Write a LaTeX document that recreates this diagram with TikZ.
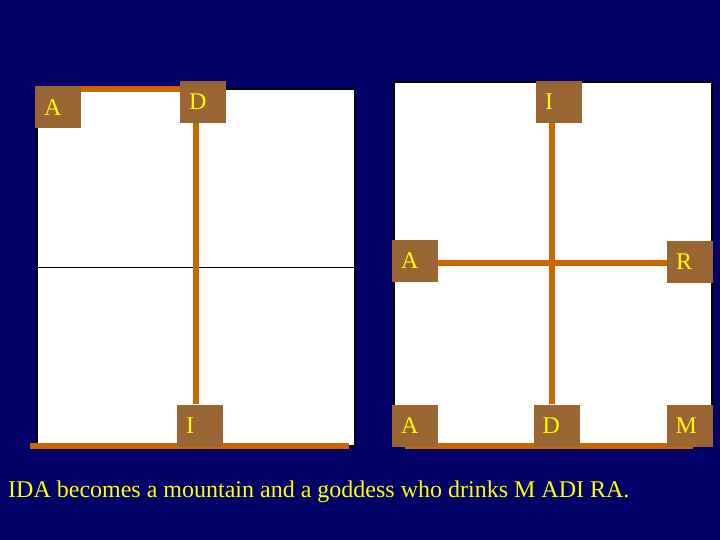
\documentclass[tikz,border=0pt]{standalone}
\usepackage{fontspec}
\setmainfont{Liberation Serif}
\definecolor{navy}{RGB}{0,0,102}
\definecolor{boxbrown}{RGB}{153,102,51}
\definecolor{linkorange}{RGB}{204,102,0}
\definecolor{lettery}{RGB}{255,255,0}
\pgfdeclarelayer{bg}
\pgfdeclarelayer{lines}
\pgfsetlayers{bg,lines,main}
\tikzset{
  letterbox/.style={fill=boxbrown, text=lettery, font=\fontsize{24}{28}\selectfont,
    minimum height=42pt, text width=28pt, inner xsep=9pt, inner ysep=0pt, align=left},
  conn/.style={draw=linkorange, line width=6pt},
  panel/.style={fill=white, draw=black, line width=1.5pt},
}
\begin{document}
\begin{tikzpicture}[x=1pt,y=-1pt]
\useasboundingbox (0,0) rectangle (720,540);
% letter boxes
\node[letterbox] (lA) at (58,107.5) {A};
\node[letterbox] (lD) at (203,102) {D};
\node[letterbox] (lI) at (200,425.5) {I};
\node[letterbox] (rI) at (559,102) {I};
\node[letterbox] (rA) at (415,261) {A};
\node[letterbox] (rR) at (690,261.5) {R};
\node[letterbox] (bA) at (415,426) {A};
\node[letterbox] (bD) at (556.5,425.5) {D};
\node[letterbox] (bM) at (689.5,425.5) {M};
\node[anchor=base west, text=lettery, font=\fontsize{24}{28}\selectfont, inner sep=0pt] (cap) at (8,497)
  {IDA becomes a mountain and a goddess who drinks M ADI RA.};
% coordinates
\coordinate (tl) at (37,89);
\coordinate (lvx) at (196,0);
\coordinate (bl1) at (30,446);
\coordinate (bl2) at (349,446);
\coordinate (rvx) at (552,0);
\coordinate (hy) at (0,263);
\coordinate (br1) at (405,446);
\coordinate (br2) at (693,446);
\begin{pgfonlayer}{bg}
  \fill[navy] (0,0) rectangle (720,540);
  \draw[panel] (37,89) rectangle (355,446);
  \draw[black, line width=1pt] (37,267) -- (355,267);
  \draw[panel] (394,82) rectangle (712,445);
\end{pgfonlayer}
\begin{pgfonlayer}{lines}
  \draw[conn] (tl) -- (tl -| lD.west);
  \draw[conn] (lvx |- lD.south) -- (lvx |- lI.north);
  \draw[conn] (bl1) -- (bl2);
  \draw[conn] (rvx |- rI.south) -- (rvx |- bD.north);
  \draw[conn] (hy -| rA.east) -- (hy -| rR.west);
  \draw[conn] (br1) -- (br2);
\end{pgfonlayer}
\end{tikzpicture}
\end{document}
